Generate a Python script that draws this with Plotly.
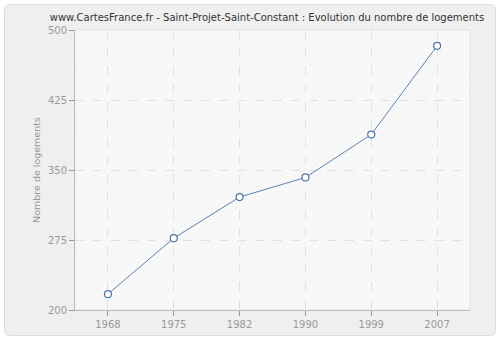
import plotly.graph_objects as go

years = ["1968", "1975", "1982", "1990", "1999", "2007"]
logements = [217, 277, 321, 342, 388, 483]
y_ticks = [200, 275, 350, 425, 500]
title = "www.CartesFrance.fr - Saint-Projet-Saint-Constant : Evolution du nombre de logements"
y_title = "Nombre de logements"

L, R, T, B = 75, 30, 30, 30
W, H = 500, 340
pw, ph = W - L - R, H - T - B

def px(x):
    return (x - L) / pw

def py(y):
    return (H - B - y) / ph

# rounded panel path in paper coords
x0, x1, y0, y1 = 4.5, 495.5, 4.5, 335.5
r = 6
path = (
    f"M {px(x0 + r)} {py(y0)} L {px(x1 - r)} {py(y0)} "
    f"Q {px(x1)} {py(y0)} {px(x1)} {py(y0 + r)} L {px(x1)} {py(y1 - r)} "
    f"Q {px(x1)} {py(y1)} {px(x1 - r)} {py(y1)} L {px(x0 + r)} {py(y1)} "
    f"Q {px(x0)} {py(y1)} {px(x0)} {py(y1 - r)} L {px(x0)} {py(y0 + r)} "
    f"Q {px(x0)} {py(y0)} {px(x0 + r)} {py(y0)} Z"
)

fig = go.Figure()

# hatched background (transparent so the grid shows through)
fig.add_trace(go.Bar(
    x=years, y=[y_ticks[-1] - y_ticks[0]] * len(years), base=y_ticks[0],
    width=1, hoverinfo="skip", showlegend=False,
    marker=dict(color="rgba(0,0,0,0)", line=dict(width=0),
                pattern=dict(shape="/", fgcolor="rgba(0,0,0,0.025)",
                             bgcolor="rgba(0,0,0,0)", size=5, solidity=0.2)),
))

fig.add_trace(go.Scatter(
    x=years, y=logements, mode="lines+markers",
    line=dict(color="#5a83b0", width=1),
    marker=dict(symbol="circle", size=7, color="white",
                line=dict(color="#4d76a6", width=1.2)),
    showlegend=False,
))

fig.update_layout(
    width=W, height=H,
    margin=dict(l=L, r=R, t=T, b=B, autoexpand=False),
    paper_bgcolor="white",
    plot_bgcolor="#f8f8f8",
    bargap=0,
    font=dict(family="DejaVu Sans", size=10, color="#999999"),
    title=dict(text=title, x=267 / W, xref="container",
               xanchor="center", y=1 - 17 / H, yanchor="middle",
               font=dict(family="DejaVu Sans", size=10, color="#333333")),
    shapes=[
        dict(type="path", path=path, xref="paper", yref="paper",
             fillcolor="#efefef", line=dict(color="#dcdcdc", width=1), layer="below"),
        dict(type="rect", xref="paper", yref="paper", x0=0, x1=1, y0=0, y1=1,
             fillcolor="#f8f8f8", line=dict(width=0), layer="below"),
        dict(type="rect", xref="paper", yref="paper", x0=0, x1=1, y0=0, y1=1,
             line=dict(color="#e2e2e2", width=1), fillcolor="rgba(0,0,0,0)", layer="above"),
    ],
)

fig.update_xaxes(
    type="category", range=[-0.5, len(years) - 0.5], automargin=False,
    showgrid=True, gridcolor="#e2e2e2", griddash="dash", gridwidth=1,
    showline=True, linecolor="#999999", linewidth=1,
    ticks="outside", ticklen=5, tickcolor="#999999",
    tickfont=dict(size=10, color="#999999"), zeroline=False,
)
fig.update_yaxes(
    range=[y_ticks[0], y_ticks[-1]], tickvals=y_ticks, automargin=False,
    showgrid=True, gridcolor="#e2e2e2", griddash="dash", gridwidth=1,
    showline=True, linecolor="#999999", linewidth=1,
    ticks="outside", ticklen=5, tickcolor="#999999",
    tickfont=dict(size=10, color="#999999"), zeroline=False,
    title=dict(text=y_title, font=dict(size=9.5, color="#999999"), standoff=5),
)

fig.write_html("out.html")
